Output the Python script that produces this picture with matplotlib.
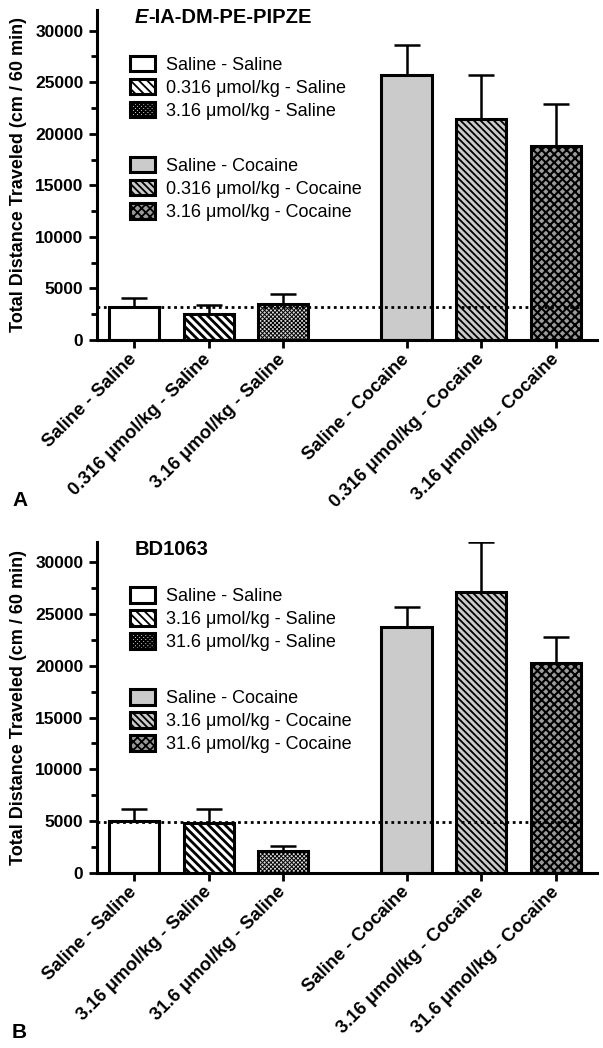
import numpy as np
import matplotlib
matplotlib.use('Agg')
import matplotlib.pyplot as plt
from matplotlib.ticker import MultipleLocator

plt.rcParams['font.family'] = ['Liberation Sans', 'DejaVu Sans']
plt.rcParams['hatch.linewidth'] = 1.3

# panel A : E-IA-DM-PE-PIPZE
labels_a = ['Saline - Saline', '0.316 μmol/kg - Saline', '3.16 μmol/kg - Saline',
            'Saline - Cocaine', '0.316 μmol/kg - Cocaine', '3.16 μmol/kg - Cocaine']
means_a = [3200, 2550, 3450, 25700, 21400, 18850]
errs_a = [880, 890, 1050, 2880, 4300, 4040]
baseline_a = 3200

# panel B : BD1063
labels_b = ['Saline - Saline', '3.16 μmol/kg - Saline', '31.6 μmol/kg - Saline',
            'Saline - Cocaine', '3.16 μmol/kg - Cocaine', '31.6 μmol/kg - Cocaine']
means_b = [4950, 4850, 2100, 23800, 27100, 20300]
errs_b = [1200, 1340, 510, 1850, 4830, 2510]
baseline_b = 4900

# bar styles (face, hatch, hatch linewidth)
faces = ['white', 'white', '#d8d8d8', '#cbcbcb', '#cbcbcb', '#9a9a9a']
hatches = ['', '\\\\\\\\', 'xxxxxxxx', '', '\\\\\\\\\\', 'xxxx']
hatch_lw = [1.3, 2.0, 0.7, 1.3, 1.3, 1.5]

W, H = 603, 1048
fig = plt.figure(figsize=(W / 100, H / 100), dpi=100)


def draw_panel(ax, labels, means, errs, baseline, title_parts):
    idx = np.arange(len(means))
    x = idx + np.where(idx >= 3, 0.65, 0.0)
    bars = ax.bar(x, means, width=0.67, color=faces, edgecolor='black',
                  linewidth=2.2, zorder=2)
    for b, h, hl in zip(bars, hatches, hatch_lw):
        b.set_hatch(h)
        if hasattr(b, 'set_hatch_linewidth'):
            b.set_hatch_linewidth(hl)
    ax.errorbar(x, means, yerr=[np.zeros(len(errs)), errs], fmt='none',
                ecolor='black', elinewidth=1.8, capsize=9.5, capthick=1.8, zorder=1)
    ax.hlines(baseline, -0.5, 6.0, colors='black', linestyles=(0, (1, 1.3)),
              linewidth=2.0, zorder=3)

    ax.set_xlim(-0.5, 6.2)
    ax.set_ylim(0, 32000)
    ax.yaxis.set_major_locator(MultipleLocator(5000))
    ax.yaxis.set_minor_locator(MultipleLocator(2500))
    ax.set_xticks(x)
    ax.set_xticklabels(labels, rotation=45, ha='right', va='center',
                       rotation_mode='anchor', fontsize=13.3, fontweight='bold')
    for t in ax.get_yticklabels():
        t.set_fontweight('bold')
    ax.tick_params(axis='y', labelsize=12.5, width=2, length=6, direction='out')
    ax.tick_params(axis='y', which='minor', width=2, length=4)
    ax.tick_params(axis='x', width=2, length=6, pad=6)
    for s in ['top', 'right']:
        ax.spines[s].set_visible(False)
    for s in ['left', 'bottom']:
        ax.spines[s].set_linewidth(2.2)
    ax.set_ylabel('Total Distance Traveled (cm / 60 min)', fontsize=13,
                  fontweight='bold', labelpad=6)

    # title
    if title_parts[0]:
        t0 = ax.text(0.077, 0.978, title_parts[0], transform=ax.transAxes,
                     fontsize=14.5, fontweight='bold', fontstyle='italic',
                     va='center', ha='left')
        ax.annotate(title_parts[1], xy=(1, 0.5), xycoords=t0, va='center',
                    ha='left', fontsize=14.5, fontweight='bold')
    else:
        ax.text(0.077, 0.975, title_parts[1], transform=ax.transAxes,
                fontsize=14.5, fontweight='bold', va='center', ha='left')

    kw = dict(loc='upper left', frameon=False, fontsize=13, borderpad=0,
              borderaxespad=0, handlelength=1.4, handleheight=0.95,
              handletextpad=0.6, labelspacing=0.28)
    leg1 = ax.legend(bars[:3], labels[:3], bbox_to_anchor=(0.066, 0.862), **kw)
    ax.add_artist(leg1)
    ax.legend(bars[3:], labels[3:], bbox_to_anchor=(0.066, 0.555), **kw)


ax_a = fig.add_axes([96.5 / W, 1 - 340 / H, 500.5 / W, 330 / H])
draw_panel(ax_a, labels_a, means_a, errs_a, baseline_a, ('E', '-IA-DM-PE-PIPZE'))

ax_b = fig.add_axes([96.5 / W, 1 - 872.7 / H, 500.5 / W, 331 / H])
draw_panel(ax_b, labels_b, means_b, errs_b, baseline_b, ('', 'BD1063'))

fig.text(12 / W, 1 - 500 / H, 'A', fontsize=15, fontweight='bold', va='center')
fig.text(12 / W, 1 - 1032 / H, 'B', fontsize=15, fontweight='bold', va='center')

fig.savefig('out.png', dpi=100)
